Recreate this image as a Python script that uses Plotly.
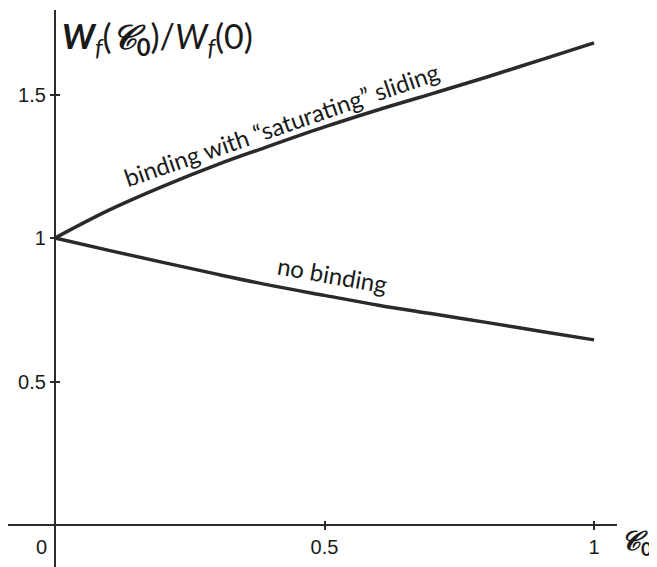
import plotly.graph_objects as go

# ---- data ----
c_values = [0.0, 0.1, 0.2, 0.3, 0.4, 0.5, 0.6, 0.7, 0.8, 0.9, 1.0]
binding_saturating = [1.0, 1.097, 1.18, 1.255, 1.322, 1.387, 1.447, 1.503, 1.56, 1.62, 1.68]
no_binding = [1.0, 0.957, 0.915, 0.874, 0.835, 0.80, 0.766, 0.736, 0.706, 0.675, 0.645]
x_tick_vals = [0.5, 1]
x_tick_text = ["0.5", "1"]
y_tick_vals = [0.5, 1, 1.5]
y_tick_text = ["0.5", "1", "1.5"]
label_saturating = "binding with \u201csaturating\u201d sliding"
label_none = "no binding"

# the page body adds an 8px margin; compensate so the drawing lands where the reference has it
OFF = 8
W, H = 657 - OFF, 567 - OFF
AX = "#2b2b2b"
LINE = "#2a2a2a"

# pixel geometry of the axes (reference pixel coordinates minus the page offset)
x0_px, x1_px = 55 - OFF, 594 - OFF   # data 0 and 1 along x
y0_px, yunit = 525 - OFF, 287        # data 0 row and pixels per unit
xl_px, xr_px = 0, 617 - OFF          # x-axis line extent
yt_px = 10 - OFF                     # y-axis top

xrange = [(xl_px - x0_px) / (x1_px - x0_px), (xr_px - x0_px) / (x1_px - x0_px)]
yrange = [-(H - y0_px) / yunit, (y0_px - yt_px) / yunit]
xdom = [xl_px / W, xr_px / W]
ydom = [0, (H - yt_px) / H]
xpos = (H - y0_px) / H
ypos = x0_px / W

fig = go.Figure()
fig.add_trace(go.Scatter(x=c_values, y=binding_saturating, mode="lines",
                         line=dict(color=LINE, width=3.5, shape="spline"),
                         showlegend=False, hoverinfo="skip"))
fig.add_trace(go.Scatter(x=c_values, y=no_binding, mode="lines",
                         line=dict(color=LINE, width=3.5, shape="spline"),
                         showlegend=False, hoverinfo="skip"))
# invisible trace to activate overlay axes (inner tick halves)
fig.add_trace(go.Scatter(x=[c_values[0]], y=[no_binding[0]], xaxis="x2", yaxis="y2",
                         mode="markers", marker=dict(opacity=0), showlegend=False,
                         hoverinfo="skip"))

tickfont = dict(family="Liberation Sans, Arial, sans-serif", size=20, color="#1a1a1a")

fig.update_layout(
    width=W, height=H,
    margin=dict(l=0, r=0, t=0, b=0),
    paper_bgcolor="white", plot_bgcolor="white",
    xaxis=dict(domain=xdom, range=xrange, anchor="free", position=xpos,
               showline=True, linecolor=AX, linewidth=2.2, showgrid=False, zeroline=False,
               ticks="outside", ticklen=4, tickwidth=2, tickcolor=AX,
               tickvals=x_tick_vals, ticktext=x_tick_text, tickfont=tickfont),
    yaxis=dict(domain=ydom, range=yrange, anchor="free", position=ypos,
               showline=True, linecolor=AX, linewidth=2.2, showgrid=False, zeroline=False,
               ticks="outside", ticklen=4, tickwidth=2, tickcolor=AX,
               tickvals=y_tick_vals, ticktext=y_tick_text, tickfont=tickfont),
    xaxis2=dict(domain=xdom, range=xrange, anchor="free", position=xpos, overlaying="x",
                showline=False, showgrid=False, zeroline=False,
                ticks="inside", ticklen=4, tickwidth=2, tickcolor=AX,
                tickvals=x_tick_vals, showticklabels=False),
    yaxis2=dict(domain=ydom, range=yrange, anchor="free", position=ypos, overlaying="y",
                showline=False, showgrid=False, zeroline=False,
                ticks="inside", ticklen=4, tickwidth=2, tickcolor=AX,
                tickvals=y_tick_vals, showticklabels=False),
)

labfont = dict(family="Lato, Open Sans, sans-serif", size=24, color="#1a1a1a")

# origin label "0"
fig.add_annotation(x=0, y=0, xref="x", yref="y", text="0", showarrow=False,
                   xanchor="center", yanchor="top", xshift=-14, yshift=-9, font=tickfont)

# curve labels
fig.add_annotation(x=0.42, y=1.395, xref="x", yref="y", text=label_saturating,
                   showarrow=False, textangle=-19, font=labfont)
fig.add_annotation(x=0.514, y=0.873, xref="x", yref="y", text=label_none,
                   showarrow=False, textangle=10, font=labfont)

# y-axis title
fig.add_annotation(x=(60 - OFF) / W, y=1 - (38 - OFF) / H, xref="paper", yref="paper",
                   xanchor="left", yanchor="middle", showarrow=False,
                   text="<b><i>W</i></b><sub><i>f</i></sub>(<b><i>\U0001D49E</i></b><sub><b>0</b></sub>)/<i>W</i><sub><i>f</i></sub>(0)",
                   font=dict(family="Lato, Open Sans, sans-serif", size=34, color="#1a1a1a"))
# x-axis title
fig.add_annotation(x=(619 - OFF) / W, y=1 - (541 - OFF) / H, xref="paper", yref="paper",
                   xanchor="left", yanchor="middle", showarrow=False,
                   text="<b><i>\U0001D49E</i></b><sub><b>0</b></sub>",
                   font=dict(family="Lato, Open Sans, sans-serif", size=27, color="#1a1a1a"))

fig.write_html("out.html")
